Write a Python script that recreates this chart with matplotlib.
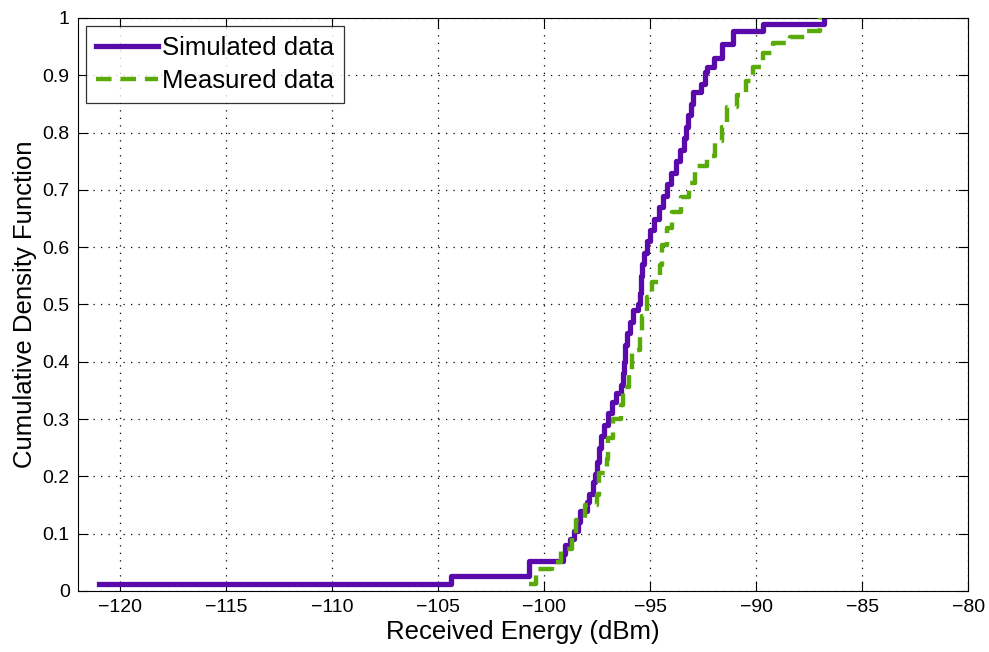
"""CDF of received energy: simulated vs. measured (MATLAB-style figure)."""

import matplotlib
matplotlib.use("Agg")
import matplotlib.pyplot as plt

plt.rcParams["font.family"] = ["Liberation Sans", "DejaVu Sans"]

# step corners: at each x the CDF jumps to the matching y
SIM_X = [-121.0, -104.4, -100.7, -99.1, -99.0, -98.8, -98.6, -98.4, -98.3,
         -98.0, -97.9, -97.7, -97.6, -97.5, -97.4, -97.3, -97.2, -97.0,
         -96.8, -96.6, -96.4, -96.3, -96.25, -96.2, -96.1, -95.95, -95.8,
         -95.6, -95.5, -95.45, -95.4, -95.3, -95.15, -95.0, -94.8, -94.6,
         -94.4, -94.2, -94.0, -93.8, -93.6, -93.4, -93.3, -93.2, -93.1,
         -93.0, -92.6, -92.4, -92.3, -92.0, -91.6, -91.1, -89.7, -86.8]
SIM_Y = [0.013, 0.027, 0.053, 0.065, 0.08, 0.09, 0.105, 0.12, 0.14,
         0.155, 0.17, 0.19, 0.205, 0.225, 0.25, 0.27, 0.29, 0.31,
         0.33, 0.345, 0.36, 0.38, 0.40, 0.43, 0.45, 0.47, 0.49,
         0.50, 0.52, 0.55, 0.57, 0.59, 0.61, 0.63, 0.65, 0.67,
         0.69, 0.71, 0.73, 0.75, 0.77, 0.79, 0.81, 0.83, 0.85,
         0.87, 0.885, 0.905, 0.915, 0.93, 0.955, 0.978, 0.99, 1.0]

MEAS_X = [-100.7, -100.4, -99.65, -99.2, -98.7, -98.5, -98.1, -97.5, -97.4,
          -97.05, -97.0, -96.77, -96.4, -96.3, -96.0, -95.87, -95.5, -95.4,
          -95.17, -94.9, -94.55, -94.46, -94.2, -93.95, -93.56, -93.18,
          -92.9, -92.3, -91.95, -91.6, -91.4, -90.9, -90.5, -90.14, -89.7,
          -89.2, -88.4, -87.6, -87.0]
MEAS_Y = [0.012, 0.038, 0.05, 0.073, 0.094, 0.124, 0.15, 0.167, 0.206,
          0.23, 0.267, 0.30, 0.325, 0.356, 0.386, 0.42, 0.447, 0.48,
          0.513, 0.54, 0.569, 0.604, 0.634, 0.661, 0.688, 0.712,
          0.742, 0.759, 0.785, 0.81, 0.845, 0.866, 0.89, 0.914, 0.939,
          0.956, 0.967, 0.977, 1.0]

X_TICKS = [-120, -115, -110, -105, -100, -95, -90, -85, -80]
Y_TICKS = [0, 0.1, 0.2, 0.3, 0.4, 0.5, 0.6, 0.7, 0.8, 0.9, 1]

fig = plt.figure(figsize=(9.89, 6.52), dpi=100)
ax = fig.add_axes([0.0789, 0.0936, 0.9, 0.8788])

ax.step(MEAS_X, MEAS_Y, where="post", color="#5aaa0a", linewidth=3.2,
        dashes=(3.5, 2.0), label="Measured data", zorder=3)
ax.step(SIM_X, SIM_Y, where="post", color="#5a0aaa", linewidth=3.8,
        label="Simulated data", zorder=2)

ax.set_xlim(-122, -80)
ax.set_ylim(0, 1)
ax.set_xticks(X_TICKS)
ax.set_xticklabels([f"\u2212{abs(t)}" for t in X_TICKS])
ax.set_yticks(Y_TICKS)
ax.set_yticklabels(["0"] + [f"{t:g}" for t in Y_TICKS[1:-1]] + ["1"])
ax.tick_params(direction="in", length=7, width=0.8, top=True, right=True,
               labelsize=14, pad=6)
ax.grid(True, color="black", linestyle=(0, (1, 5)), linewidth=0.9)
for sp in ax.spines.values():
    sp.set_linewidth(0.8)

ax.set_xlabel("Received Energy (dBm)", fontsize=18.5, labelpad=3)
ax.set_ylabel("Cumulative Density Function", fontsize=18.5, labelpad=4)

handles, labels = ax.get_legend_handles_labels()
leg = ax.legend(handles[::-1], labels[::-1], loc="upper left", fontsize=18.5,
                frameon=True, fancybox=False, edgecolor="black",
                handlelength=2.4, borderaxespad=0.3, borderpad=0.4,
                labelspacing=0.35, handletextpad=0.15)
leg.get_frame().set_linewidth(0.9)

fig.savefig("out.png", dpi=100)
